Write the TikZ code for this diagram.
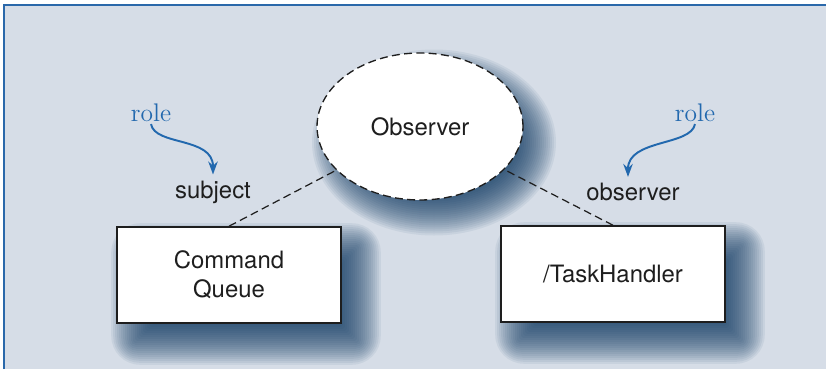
\documentclass[tikz,border=0pt]{standalone}
\usepackage{fontspec}
\setsansfont{TeX Gyre Heros}
\usepackage{tikz}
\usetikzlibrary{arrows.meta,shapes.geometric,backgrounds}
\definecolor{pbg}{HTML}{D6DDE7}
\definecolor{pframe}{HTML}{2A68AA}
\definecolor{prole}{HTML}{2268AE}
\definecolor{pshadow}{HTML}{0F3A63}
\definecolor{ptext}{HTML}{1E1E1E}
\newcommand{\lblfont}{\sffamily\fontsize{13.6}{16.5}\selectfont}
\newcommand{\rolefont}{\rmfamily\fontsize{14.5}{16}\selectfont}
\tikzset{
  cls/.style     = {rectangle, draw=ptext, line width=0.9pt, fill=white,
                    minimum width=4.48cm, minimum height=1.92cm,
                    font=\lblfont, text=ptext, align=center},
  collab/.style  = {ellipse, draw=ptext, line width=0.75pt, fill=white,
                    dash pattern=on 4.5pt off 2.5pt,
                    minimum width=4.12cm, minimum height=2.94cm,
                    font=\lblfont, text=ptext},
  rlab/.style    = {font=\lblfont, text=ptext},
  rolelab/.style = {font=\rolefont, text=prole, inner sep=1pt},
  link/.style    = {draw=ptext, line width=0.7pt, dash pattern=on 4.5pt off 2.5pt},
  rarr/.style    = {draw=prole, line width=1.1pt,
                    -{Stealth[length=2.6mm, width=1.9mm]}},
  shd/.style     = {fill=pshadow, fill opacity=0.065},
}
\begin{document}
\begin{tikzpicture}[x=0.02cm,y=-0.02cm]
  \useasboundingbox (0,0) rectangle (826,369);

  \node[collab] (obs) at (420,126.5) {Observer};
  \node[cls] (cq) at (229,275) {Command\\Queue};
  \node[cls] (th) at (613,274) {/TaskHandler};

  \node[rlab] (subj) at (213,192) {subject};
  \node[rlab] (obsv) at (633,192) {observer};
  \node[rolelab] (rolel) at (151,113) {role};
  \node[rolelab] (roler) at (695,113) {role};

  \draw[link] (cq.north) -- (obs);
  \draw[link] (th.north) -- (obs);
  \draw[rarr] (rolel.south) .. controls +(4,22) and +(0,-38) .. (subj.north);
  \draw[rarr] (roler.south) .. controls +(-4,22) and +(0,-38) .. ([xshift=-0.1cm]obsv.north);

  \begin{scope}[on background layer]
    \fill[pbg] (4,5) rectangle (826,369);
    \draw[pframe, line width=1.4pt] (4,369) -- (4,5) -- (826,5);
    \foreach \e in {-20,-18,...,22} {
      \fill[shd, rounded corners={max(\e,0)*0.7pt+1pt}]
        ([shift={({17-(\e)},{19+(\e)})}]cq.south west) rectangle ([shift={({17+(\e)},{19-(\e)})}]cq.north east);
      \fill[shd, rounded corners={max(\e,0)*0.7pt+1pt}]
        ([shift={({17-(\e)},{19+(\e)})}]th.south west) rectangle ([shift={({17+(\e)},{19-(\e)})}]th.north east);
      \fill[shd] ([shift={(14,16)}]obs.center)
        ellipse [x radius={(100+(\e))*0.02cm}, y radius={(71+(\e))*0.02cm}];
    }
  \end{scope}
\end{tikzpicture}
\end{document}
